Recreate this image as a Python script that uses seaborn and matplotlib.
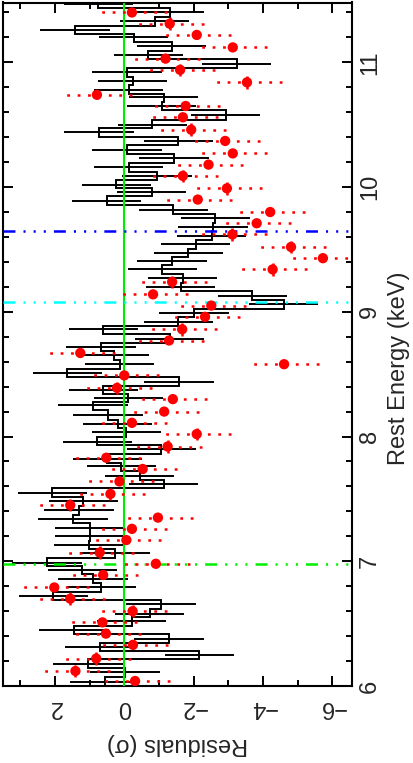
import numpy as np
import pandas as pd
import matplotlib
matplotlib.use("Agg")
import matplotlib.pyplot as plt
import seaborn as sns

# black spectrum: bin centre energies (keV) and residuals (sigma)
black_energy = [11.47, 11.40, 11.33, 11.26, 11.20, 11.13, 11.06, 10.99, 10.92, 10.85, 10.78, 10.72,
                10.65, 10.58, 10.50, 10.44, 10.37, 10.30, 10.23, 10.16, 10.09, 10.02,
                9.96, 9.89, 9.82, 9.75, 9.68, 9.61, 9.54, 9.47, 9.41, 9.34, 9.27, 9.20, 9.13, 9.06,
                8.99, 8.92, 8.86, 8.78, 8.72, 8.65, 8.58, 8.51, 8.44, 8.37, 8.31, 8.25, 8.17, 8.10, 8.04,
                7.96, 7.90, 7.82, 7.76, 7.68, 7.62, 7.55, 7.48, 7.41, 7.34, 7.27, 7.20, 7.13, 7.07,
                6.99, 6.93, 6.86, 6.79, 6.72, 6.66, 6.58, 6.52, 6.45, 6.38, 6.31, 6.25, 6.18, 6.11, 6.03]
black_resid = [0.75, -1.31, -0.88, 1.42, -0.27, -1.37, -0.69, -3.24, -0.08, -0.24, -0.13, -1.14,
               -1.08, -2.92, -0.81, 0.73, -1.56, -0.08, -1.43, -0.13, -0.94, 0.23,
               -0.79, 0.51, -1.41, -2.63, -2.56, -2.52, -2.06, -1.85, -1.38, -1.10, -1.68, -1.63, -3.69, -4.6,
               -2.01, -1.56, 0.61, -1.31, 0.67, 0.30, 0.13, 1.64, -1.58, 0.61, -0.12, 0.90, 0.47, 0.19, -0.06,
               0.78, -1.07, 0.49, 0.09, -0.44, -1.14, 2.08, 1.18, 1.31, 1.48, 0.99, 0.99, 1.02, 0.27,
               2.23, 1.21, 0.90, 0.66, 2.05, -1.06, -0.73, -0.21, 1.45, -1.29, 0.71, -2.16, 1.05, -0.02, 0.56]

# red spectrum
red_energy = [11.40, 11.31, 11.22, 11.12, 11.03, 10.94, 10.84, 10.74, 10.65, 10.56,
              10.46, 10.37, 10.27, 10.18, 10.09, 9.99, 9.90, 9.80, 9.71, 9.62,
              9.52, 9.43, 9.34, 9.24, 9.14, 9.05, 8.96, 8.86, 8.77, 8.67,
              8.58, 8.49, 8.39, 8.30, 8.20, 8.11, 8.02, 7.92, 7.83, 7.74,
              7.64, 7.54, 7.45, 7.35, 7.26, 7.17, 7.07, 6.98, 6.89, 6.79,
              6.70, 6.60, 6.51, 6.42, 6.33, 6.22, 6.12, 6.04]
red_resid = [-0.22, -1.31, -2.09, -3.13, -1.19, -1.61, -3.54, 0.79, -1.77, -1.69,
             -1.93, -2.91, -3.13, -2.43, -1.69, -2.96, -2.12, -4.21, -3.82, -3.12,
             -4.81, -5.73, -4.28, -1.38, -0.83, -2.51, -2.33, -1.67, -1.29, 1.27,
             -4.61, 0.00, 0.21, -1.40, -1.15, -0.22, -2.09, -1.25, 0.52, -0.53,
             0.14, 0.40, 1.56, -0.97, -0.22, -0.06, 0.71, -0.91, 0.61, 2.02,
             1.56, -0.24, 0.63, 0.53, -0.25, 0.81, 1.41, -0.31]
red_de = [0.03, 0.05, 0.03, 0.03, 0.03, 0.05, 0.05, 0.03, 0.03, 0.03,
          0.05, 0.03, 0.03, 0.03, 0.05, 0.05, 0.03, 0.03, 0.03, 0.05,
          0.05, 0.03, 0.05, 0.05, 0.03, 0.03, 0.03, 0.05, 0.03, 0.03,
          0.03, 0.03, 0.05, 0.03, 0.03, 0.03, 0.05, 0.05, 0.03, 0.03,
          0.03, 0.05, 0.05, 0.03, 0.03, 0.03, 0.05, 0.03, 0.03, 0.03,
          0.05, 0.05, 0.03, 0.03, 0.03, 0.05, 0.05, 0.03]

# marked line energies (keV)
line_energy = [6.98, 9.08, 9.65]
line_color = ["#00ee00", "#00ffff", "#0000ff"]

sns.set_theme(style="ticks")
plt.rcParams["font.family"] = ["Liberation Sans", "DejaVu Sans"]
plt.rcParams["lines.scale_dashes"] = False

fig = plt.figure(figsize=(4.13, 7.63), dpi=100)
ax = fig.add_axes([3 / 413, 77 / 763, 349 / 413, 683.5 / 763])

# black: step histogram + 1 sigma bars
e = np.array(black_energy)[::-1]
r = np.array(black_resid)[::-1]
mid = (e[:-1] + e[1:]) / 2
edges = np.concatenate([[e[0] - (mid[0] - e[0])], mid, [e[-1] + (e[-1] - mid[-1])]])
ax.stairs(r, edges, orientation="horizontal", baseline=None, color="black", lw=1.4, zorder=2)
ax.errorbar(black_resid, black_energy, xerr=1, fmt="none", ecolor="black", elinewidth=1.4, zorder=2)

ax.axvline(0, color="#00ee00", lw=1.5, zorder=3)
for en, c in zip(line_energy, line_color):
    ax.axhline(en, color=c, lw=1.8, ls=(0, (8.6, 5.8, 1.5, 5.8, 1.5, 5.8, 1.5, 5.8)), zorder=3)

# red: dotted sigma bars + markers
red = pd.DataFrame({"energy": red_energy, "resid": red_resid, "de": red_de})
eb = ax.errorbar(red["resid"], red["energy"], xerr=1, fmt="none", ecolor="red", elinewidth=1.8, zorder=4)
eb[2][0].set_linestyle((0, (2, 5.5)))
ax.errorbar(red["resid"], red["energy"], yerr=red["de"], fmt="none", ecolor="red", elinewidth=1.8, zorder=4)
sns.scatterplot(data=red, x="resid", y="energy", color="red", s=55, edgecolor="none", zorder=5, ax=ax)

ax.set_xlim(3.5, -6.57)
ax.set_ylim(6.0, 11.48)
ax.set_xticks([2, 0, -2, -4, -6])
ax.set_xticks(np.arange(-6, 4, 1), minor=True)
ax.set_yticks([6, 7, 8, 9, 10, 11])
ax.set_yticks(np.arange(6, 11.5, 0.2), minor=True)
ax.tick_params(which="both", direction="in", top=True, bottom=True, left=True, right=True,
               labelleft=False, labelright=True, width=1.4, color="black", labelsize=17)
ax.tick_params(which="major", length=7.5)
ax.tick_params(which="minor", length=4)
ax.tick_params(axis="x", pad=7, labelrotation=180)
ax.tick_params(axis="y", pad=5, labelrotation=90)
for lab in ax.get_yticklabels():
    lab.set_va("center")
for s in ax.spines.values():
    s.set_linewidth(1.5)
    s.set_color("black")

ax.set_xlabel("Residuals (σ)", fontsize=17, rotation=180, labelpad=11)
ax.yaxis.set_label_position("right")
ax.set_ylabel("Rest Energy (keV)", fontsize=17, rotation=90)
ax.yaxis.set_label_coords(1.104, 0.465)

fig.savefig("out.png", dpi=100)
